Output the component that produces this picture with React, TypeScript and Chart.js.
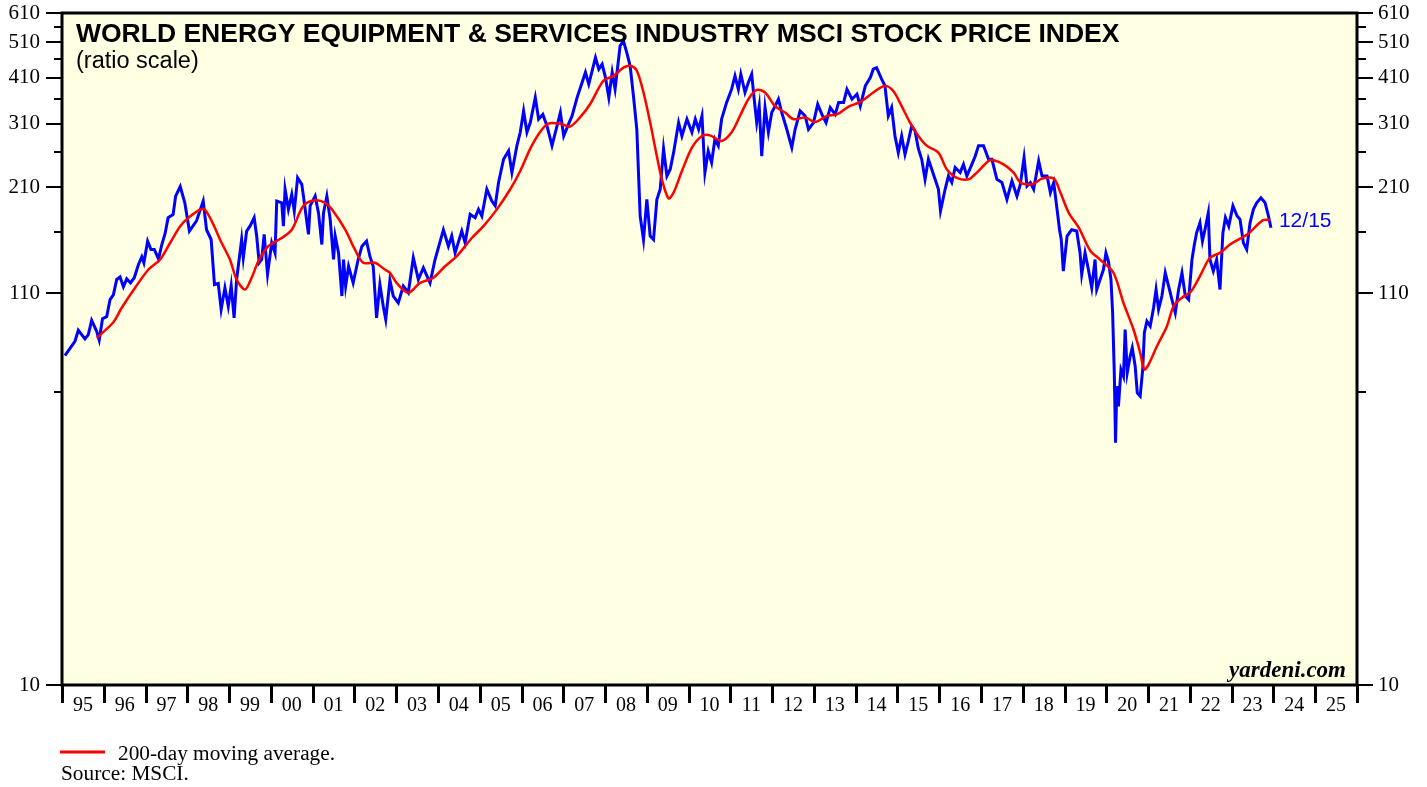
import React, { useEffect, useRef } from 'react';
import { Chart, registerables } from 'chart.js';

Chart.register(...registerables);

// ---- Data (decimal years, index values) ----
const priceYears = [
  1995.07, 1995.31, 1995.39, 1995.55, 1995.63, 1995.71, 1995.83, 1995.89, 1995.97, 1996.07,
  1996.15, 1996.23, 1996.31, 1996.39, 1996.47, 1996.55, 1996.64, 1996.73, 1996.83, 1996.91,
  1996.96, 1997.05, 1997.13, 1997.21, 1997.31, 1997.39, 1997.47, 1997.54, 1997.63, 1997.66,
  1997.72, 1997.83, 1997.94, 1998.05, 1998.22, 1998.38, 1998.46, 1998.57, 1998.65, 1998.74,
  1998.81, 1998.90, 1998.98, 1999.05, 1999.12, 1999.18, 1999.30, 1999.34, 1999.42, 1999.50,
  1999.60, 1999.66, 1999.72, 1999.78, 1999.84, 1999.92, 2000.02, 2000.10, 2000.14, 2000.26,
  2000.30, 2000.34, 2000.42, 2000.50, 2000.56, 2000.64, 2000.74, 2000.78, 2000.90, 2000.94,
  2001.06, 2001.14, 2001.22, 2001.26, 2001.34, 2001.42, 2001.50, 2001.54, 2001.62, 2001.70,
  2001.74, 2001.79, 2001.86, 2001.97, 2002.09, 2002.18, 2002.29, 2002.37, 2002.45, 2002.53,
  2002.61, 2002.69, 2002.75, 2002.85, 2002.93, 2003.05, 2003.17, 2003.29, 2003.41, 2003.53,
  2003.65, 2003.81, 2003.93, 2004.13, 2004.25, 2004.33, 2004.41, 2004.57, 2004.65, 2004.77,
  2004.89, 2004.97, 2005.05, 2005.17, 2005.29, 2005.37, 2005.45, 2005.57, 2005.69, 2005.77,
  2005.89, 2005.97, 2006.05, 2006.13, 2006.21, 2006.33, 2006.41, 2006.51, 2006.61, 2006.73,
  2006.85, 2006.93, 2007.01, 2007.13, 2007.21, 2007.33, 2007.45, 2007.53, 2007.61, 2007.77,
  2007.85, 2007.93, 2008.01, 2008.09, 2008.17, 2008.24, 2008.36, 2008.44, 2008.52, 2008.60,
  2008.68, 2008.76, 2008.80, 2008.84, 2008.92, 2009.00, 2009.08, 2009.16, 2009.24, 2009.32,
  2009.40, 2009.48, 2009.56, 2009.64, 2009.76, 2009.84, 2009.96, 2010.08, 2010.16, 2010.24,
  2010.32, 2010.39, 2010.47, 2010.55, 2010.63, 2010.71, 2010.79, 2010.91, 2011.03, 2011.11,
  2011.19, 2011.25, 2011.35, 2011.43, 2011.51, 2011.57, 2011.63, 2011.69, 2011.75, 2011.83,
  2011.91, 2011.99, 2012.07, 2012.15, 2012.23, 2012.35, 2012.47, 2012.55, 2012.67, 2012.79,
  2012.87, 2012.99, 2013.09, 2013.19, 2013.29, 2013.39, 2013.51, 2013.59, 2013.71, 2013.79,
  2013.91, 2014.03, 2014.11, 2014.23, 2014.35, 2014.42, 2014.50, 2014.62, 2014.70, 2014.78,
  2014.86, 2014.94, 2015.02, 2015.10, 2015.18, 2015.26, 2015.34, 2015.42, 2015.50, 2015.58,
  2015.66, 2015.74, 2015.82, 2015.90, 2015.98, 2016.03, 2016.14, 2016.22, 2016.30, 2016.38,
  2016.50, 2016.58, 2016.66, 2016.78, 2016.86, 2016.94, 2017.06, 2017.18, 2017.26, 2017.38,
  2017.50, 2017.62, 2017.74, 2017.86, 2017.94, 2018.03, 2018.10, 2018.18, 2018.26, 2018.38,
  2018.46, 2018.58, 2018.66, 2018.74, 2018.82, 2018.88, 2018.92, 2018.97, 2019.06, 2019.17,
  2019.29, 2019.37, 2019.41, 2019.49, 2019.57, 2019.65, 2019.73, 2019.77, 2019.85, 2019.93,
  2019.99, 2020.05, 2020.11, 2020.15, 2020.19, 2020.22, 2020.25, 2020.29, 2020.35, 2020.41,
  2020.45, 2020.50, 2020.57, 2020.62, 2020.69, 2020.74, 2020.81, 2020.87, 2020.91, 2020.97,
  2021.05, 2021.13, 2021.19, 2021.25, 2021.33, 2021.41, 2021.49, 2021.57, 2021.65, 2021.73,
  2021.81, 2021.89, 2021.97, 2022.05, 2022.10, 2022.16, 2022.24, 2022.30, 2022.36, 2022.44,
  2022.48, 2022.56, 2022.64, 2022.72, 2022.79, 2022.85, 2022.93, 2023.03, 2023.13, 2023.20,
  2023.28, 2023.36, 2023.44, 2023.52, 2023.60, 2023.70, 2023.80, 2023.88, 2023.94,
];

const priceValues = [
  75, 81.9, 87.6, 83.1, 85.3, 93.1, 87, 82.5, 94, 95.2,
  105.7, 108.8, 119.5, 121.4, 114.3, 120, 117, 120.8, 131, 137.3,
  132.4, 151, 143.6, 143.6, 135.5, 148, 158.6, 174.4, 177, 178,
  199, 211, 191, 160.7, 171, 193, 162, 152.6, 115.9, 116.6,
  99.5, 113.6, 101.5, 115, 94.5, 119.5, 152.6, 136.5, 160.7, 165.6,
  174.4, 155.9, 132.4, 135.1, 157.5, 123.3, 149.6, 140.6, 193, 191,
  165.6, 207.5, 183.5, 201, 181.7, 222.7, 213.8, 199, 157.5, 187.5,
  199, 179.6, 148, 179.6, 199, 172.6, 135.1, 155.9, 140.6, 108,
  135, 114.8, 129.6, 117, 135, 146.5, 151, 137.8, 129.6, 94.5,
  115.9, 101.5, 93.6, 119, 108, 103.5, 114.8, 110.2, 136.5, 119.5,
  128.3, 117, 135, 162, 146.5, 155.9, 140.6, 160.7, 149.6, 178,
  174.4, 183.5, 176.2, 207.5, 193, 187.5, 216.3, 249.3, 262.5, 229.8,
  271, 294, 335, 294, 312, 363.6, 318.6, 328, 305.6, 271,
  305.6, 331.7, 287.5, 310, 325, 363.6, 398.7, 424, 394.5, 464.5,
  432.7, 446, 411, 363.6, 424, 382.8, 499, 514, 479, 441.6,
  367, 299.5, 229.8, 176.2, 152.6, 195, 155.9, 152.6, 195, 207.5,
  266, 225, 234.6, 259.6, 312, 287.5, 318.6, 294, 318.6, 299.5,
  325, 229.8, 262, 244.3, 282, 271, 318.6, 353, 382.8, 415,
  382.8, 419.6, 375, 398.7, 419.6, 360, 312, 345, 254, 342,
  294, 331.7, 345, 360, 331.7, 299.5, 267.8, 299.5, 335, 325,
  299.5, 312, 349, 328, 312, 342, 328, 353, 353, 382.8,
  360, 371.5, 345, 390.8, 411, 432.7, 436.6, 407, 390.8, 325,
  342, 287.5, 259.6, 287.5, 257, 278.8, 305.6, 296.5, 266, 249.3,
  220.5, 249.3, 234.6, 220.5, 207.5, 181.7, 207.5, 225, 216.3, 237,
  229.8, 241.7, 225, 241.7, 254, 271, 271, 249.3, 249.3, 220.5,
  216.3, 195, 218.3, 199, 213.8, 252, 211.7, 216.3, 207.5, 246.7,
  225, 225, 203.3, 216.3, 183.5, 162, 152.6, 125.8, 155.9, 162,
  160.7, 140.6, 123.3, 140.6, 127, 113.6, 135, 112.4, 119.5, 127,
  140.6, 133.6, 119.5, 97.5, 67.5, 44, 62.2, 55, 68.9, 66.1,
  88, 67.5, 74.7, 78.7, 70.3, 59.7, 58.5, 68.9, 86.3, 92.6,
  89.8, 100.5, 112.4, 99.5, 108, 124.5, 114.8, 105.7, 97.5, 112.4,
  124.5, 108, 105.7, 135, 146.5, 159, 169, 151, 162, 179.6,
  135, 125.8, 135, 112.4, 159, 174.4, 165.6, 187.5, 176.2, 172.6,
  149.6, 143.6, 169, 183.5, 191, 197, 191, 176.2, 164,
];

const maYears = [
  1995.83, 1996.23, 1996.43, 1996.75, 1997.07, 1997.35, 1997.59, 1997.83, 1998.03, 1998.38,
  1998.58, 1998.82, 1999.02, 1999.18, 1999.38, 1999.54, 1999.70, 1999.94, 2000.26, 2000.50,
  2000.78, 2001.06, 2001.30, 2001.46, 2001.78, 2002.01, 2002.21, 2002.49, 2002.73, 2002.85,
  2003.01, 2003.29, 2003.57, 2003.89, 2004.17, 2004.45, 2004.81, 2005.09, 2005.41, 2005.73,
  2005.97, 2006.21, 2006.44, 2006.64, 2006.93, 2007.16, 2007.40, 2007.64, 2007.96, 2008.20,
  2008.44, 2008.60, 2008.76, 2008.92, 2009.08, 2009.24, 2009.36, 2009.52, 2009.64, 2009.84,
  2010.08, 2010.32, 2010.51, 2010.79, 2011.03, 2011.23, 2011.43, 2011.63, 2011.83, 2012.07,
  2012.31, 2012.51, 2012.79, 2013.03, 2013.31, 2013.55, 2013.83, 2014.11, 2014.42, 2014.70,
  2014.90, 2015.10, 2015.30, 2015.50, 2015.70, 2015.98, 2016.18, 2016.42, 2016.70, 2016.90,
  2017.18, 2017.30, 2017.54, 2017.78, 2017.94, 2018.22, 2018.46, 2018.74, 2018.90, 2019.10,
  2019.34, 2019.62, 2019.85, 2020.17, 2020.41, 2020.65, 2020.81, 2020.91, 2021.01, 2021.21,
  2021.45, 2021.61, 2021.81, 2022.01, 2022.24, 2022.48, 2022.72, 2022.96, 2023.20, 2023.40,
  2023.60, 2023.76, 2023.92,
];

const maValues = [
  83.6, 92, 100.5, 113.6, 127, 135.1, 149.6, 165.6, 174.4, 184.3,
  171, 149.6, 135, 119.5, 112.4, 120.8, 133.6, 146.5, 154, 162,
  187.5, 194, 191, 183.5, 162, 143.6, 132.4, 132.4, 127, 124.5,
  117, 110.2, 117, 120.8, 129.6, 137.8, 154, 165.6, 183.5, 207.5,
  232, 266, 294, 310, 310, 304.5, 322, 349, 403, 415,
  436.6, 441.6, 428.6, 375, 312, 254, 220.5, 196.3, 203.3, 232,
  267.8, 287.5, 288.6, 278.8, 294, 325, 360, 381, 375, 345,
  331.7, 318.6, 322, 313, 325, 328, 344, 354, 375, 390.8,
  378.6, 345, 312, 287.5, 271, 259.6, 234.6, 222.6, 220.5, 229.8,
  246.7, 247.8, 241.7, 229.8, 216.3, 213.8, 221.5, 221.5, 203.3, 179.6,
  164, 142.2, 135, 124.5, 103.5, 88, 76.3, 68.9, 71, 79.4,
  89.8, 101.5, 106.9, 110.5, 121.9, 136.5, 140.6, 148, 153.4, 158,
  166.3, 171.9, 171.9,
];

const yearTickLabels = [
  '95', '96', '97', '98', '99', '00', '01', '02', '03', '04', '05', '06', '07', '08', '09', '10',
  '11', '12', '13', '14', '15', '16', '17', '18', '19', '20', '21', '22', '23', '24', '25',
];
const yTickValues = [10, 60, 110, 160, 210, 260, 310, 360, 410, 460, 510, 560, 610];
const yLabeledValues = [10, 110, 210, 310, 410, 510, 610];
const lastDateLabel = '12/15';

const TITLE = 'WORLD ENERGY EQUIPMENT & SERVICES INDUSTRY MSCI STOCK PRICE INDEX';
const SUBTITLE = '(ratio scale)';
const LEGEND_TEXT = '200-day moving average.';
const SOURCE_TEXT = 'Source: MSCI.';
const BRAND = 'yardeni.com';

const SERIF = "'Liberation Serif', 'Times New Roman', serif";
const SANS = "'Liberation Sans', Arial, sans-serif";
const BG = '#FFFFE4';
const BLUE = '#0000FF';
const RED = '#FF0000';

const decorPlugin = {
  id: 'decor',
  beforeDraw(chart: any) {
    const { ctx, chartArea } = chart;
    const { left, top, right, bottom } = chartArea;
    ctx.save();
    ctx.fillStyle = BG;
    ctx.fillRect(left, top, right - left, bottom - top);
    ctx.restore();
  },
  afterDraw(chart: any) {
    const { ctx, chartArea, scales } = chart;
    const { left, top, right, bottom } = chartArea;
    const yS = scales.y;
    const xS = scales.x;
    ctx.save();

    // y tick marks (both sides)
    ctx.strokeStyle = '#000';
    ctx.lineWidth = 2;
    yTickValues.forEach((v) => {
      const y = Math.round(yS.getPixelForValue(v));
      const major = yLabeledValues.includes(v);
      ctx.beginPath();
      ctx.moveTo(left - (major ? 16 : 8), y);
      ctx.lineTo(left, y);
      ctx.moveTo(right, y);
      ctx.lineTo(right + (major ? 16 : 9), y);
      ctx.stroke();
    });

    // x tick marks at year boundaries
    ctx.lineWidth = 3;
    for (let i = 0; i <= yearTickLabels.length; i++) {
      const x = Math.round(xS.getPixelForValue(1995 + i)) + 0.5;
      ctx.beginPath();
      ctx.moveTo(x, bottom);
      ctx.lineTo(x, bottom + 18);
      ctx.stroke();
    }

    // plot border
    ctx.lineWidth = 3;
    ctx.strokeRect(left, top, right - left, bottom - top);

    // title & subtitle
    ctx.fillStyle = '#000';
    ctx.textAlign = 'left';
    ctx.textBaseline = 'alphabetic';
    ctx.font = `bold 26.5px ${SANS}`;
    ctx.fillText(TITLE, left + 14, top + 29);
    ctx.font = `23.5px ${SANS}`;
    ctx.fillText(SUBTITLE, left + 14, top + 55);

    // brand
    ctx.textAlign = 'right';
    ctx.font = `italic bold 23px ${SERIF}`;
    ctx.fillText(BRAND, right - 11, bottom - 8);

    // last date label
    const lastX = xS.getPixelForValue(priceYears[priceYears.length - 1]);
    const lastY = yS.getPixelForValue(maValues[maValues.length - 1]);
    ctx.textAlign = 'left';
    ctx.textBaseline = 'middle';
    ctx.fillStyle = BLUE;
    ctx.font = `21px ${SANS}`;
    ctx.fillText(lastDateLabel, lastX + 8, lastY + 1);

    // legend + source below
    ctx.strokeStyle = RED;
    ctx.lineWidth = 3;
    ctx.beginPath();
    ctx.moveTo(left - 2, bottom + 67);
    ctx.lineTo(left + 43, bottom + 67);
    ctx.stroke();
    ctx.fillStyle = '#000';
    ctx.textBaseline = 'alphabetic';
    ctx.font = `21.3px ${SERIF}`;
    ctx.fillText(LEGEND_TEXT, left + 56, bottom + 75);
    ctx.fillText(SOURCE_TEXT, left - 1, bottom + 95);

    ctx.restore();
  },
};

export default function App() {
  const canvasRef = useRef<HTMLCanvasElement | null>(null);

  useEffect(() => {
    const canvas = canvasRef.current;
    if (!canvas) return;
    const priceData = priceYears.map((x, i) => ({ x, y: priceValues[i] }));
    const maData = maYears.map((x, i) => ({ x, y: maValues[i] }));

    const yAxisCommon = {
      type: 'logarithmic' as const,
      min: 10,
      max: 610,
      bounds: 'data' as const,
      grid: { display: false, drawTicks: false },
      border: { display: false },
      afterBuildTicks: (scale: any) => {
        scale.ticks = yTickValues.map((v) => ({ value: v }));
      },
      ticks: {
        autoSkip: false,
        color: '#000',
        font: { family: SERIF, size: 21 },
        callback: (value: any) => (yLabeledValues.includes(Number(value)) ? String(value) : ''),
      },
    };

    const chart = new Chart(canvas, {
      type: 'line',
      data: {
        datasets: [
          {
            label: '200-day moving average',
            data: maData,
            borderColor: RED,
            borderWidth: 2.5,
            pointRadius: 0,
            tension: 0.3,
            fill: false,
          },
          {
            label: 'MSCI World Energy Equipment & Services',
            data: priceData,
            borderColor: BLUE,
            borderWidth: 3,
            pointRadius: 0,
            tension: 0,
            fill: false,
          },
        ],
      },
      plugins: [decorPlugin],
      options: {
        responsive: false,
        animation: false,
        layout: { padding: { top: 13, left: 0, right: 0, bottom: 0 } },
        plugins: {
          legend: { display: false },
          tooltip: { enabled: false },
          title: { display: false },
        },
        scales: {
          x: {
            type: 'linear',
            position: 'bottom',
            min: 1995,
            max: 2026,
            bounds: 'data',
            grid: { display: false, drawTicks: false },
            border: { display: false },
            afterFit: (scale: any) => {
              scale.height = 102;
              scale.paddingLeft = 0;
              scale.paddingRight = 0;
            },
            afterBuildTicks: (scale: any) => {
              scale.ticks = yearTickLabels.map((_, i) => ({ value: 1995.5 + i }));
            },
            ticks: {
              autoSkip: false,
              maxRotation: 0,
              padding: 9,
              color: '#000',
              font: { family: SERIF, size: 20 },
              callback: (_v: any, index: number) => yearTickLabels[index],
            },
          },
          y: {
            ...yAxisCommon,
            position: 'left',
            afterFit: (scale: any) => {
              scale.width = 62;
              scale.paddingTop = 0;
              scale.paddingBottom = 0;
            },
            ticks: { ...yAxisCommon.ticks, padding: 22 },
          },
          y2: {
            ...yAxisCommon,
            position: 'right',
            afterFit: (scale: any) => {
              scale.width = 70;
              scale.paddingTop = 0;
              scale.paddingBottom = 0;
            },
            ticks: { ...yAxisCommon.ticks, padding: 21 },
          },
        },
      } as any,
    });

    return () => {
      chart.destroy();
    };
  }, []);

  return (
    <div style={{ position: 'fixed', left: 0, top: 0, width: 1427, height: 787, background: '#fff' }}>
      <canvas ref={canvasRef} width={1427} height={787} style={{ display: 'block' }} />
    </div>
  );
}
